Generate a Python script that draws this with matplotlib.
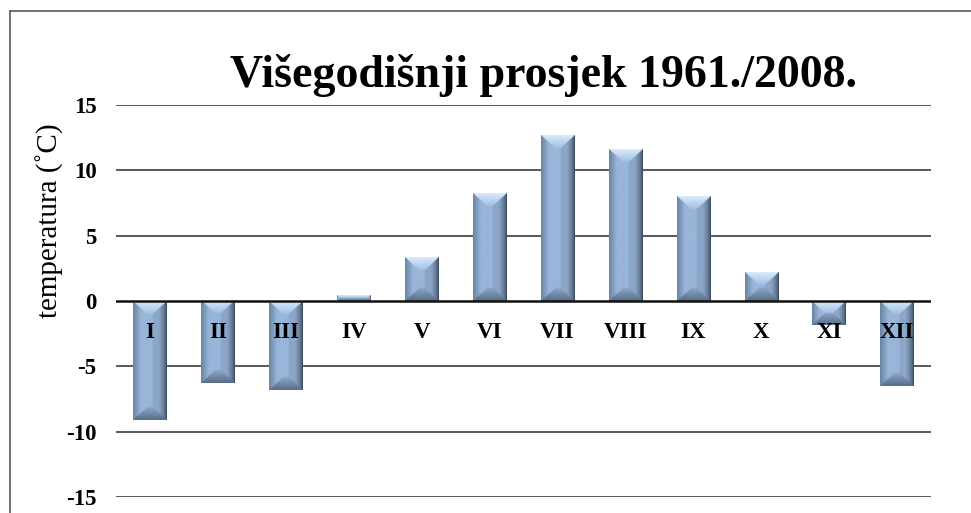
import matplotlib
matplotlib.use("Agg")
import numpy as np
import matplotlib.pyplot as plt
from matplotlib.lines import Line2D

months = ['I', 'II', 'III', 'IV', 'V', 'VI', 'VII', 'VIII', 'IX', 'X', 'XI', 'XII']
temps = [-9.1, -6.3, -6.8, 0.4, 3.3, 8.2, 12.7, 11.6, 8.0, 2.2, -1.8, -6.5]
yticks = [-15, -10, -5, 0, 5, 10, 15]
title = 'Višegodišnji prosjek 1961./2008.'
ylabel = 'temperatura (˚C)'

plt.rcParams['font.family'] = ['Liberation Serif', 'DejaVu Serif']

W, H = 971, 513
fig = plt.figure(figsize=(W / 100, H / 100), dpi=100)
ax_left, ax_right, ax_top, ax_bot = 116, 931, 105, 497
ax = fig.add_axes([ax_left / W, (H - ax_bot) / H, (ax_right - ax_left) / W, (ax_bot - ax_top) / H])
for s in ax.spines.values():
    s.set_visible(False)

for t in yticks:
    if t == 0:
        continue
    ax.axhline(t, color='#3c3c3c', lw=1.2, zorder=1)
ax.axhline(0, color='#111111', lw=1.8, zorder=4)

bars = ax.bar(range(len(months)), temps, width=0.49, color='#95b3d7', edgecolor='none', zorder=2)

# bevel shading computed from each bar's geometry
px_x = 12 / (ax_right - ax_left)
px_y = 30 / (ax_bot - ax_top)
C = lambda *v: np.array(v, dtype=float) / 255
center = C(152, 181, 218)
top_e, top_i = C(218, 235, 252), C(160, 190, 226)
bot_e, bot_i = C(88, 108, 134), C(140, 167, 202)
lef_e, lef_i = C(105, 130, 160), C(152, 181, 218)
rig_e, rig_i = C(38, 50, 68), C(140, 166, 200)
for b in bars:
    x0 = b.get_x()
    x1 = x0 + b.get_width()
    y_lo = min(b.get_y(), b.get_y() + b.get_height())
    y_hi = max(b.get_y(), b.get_y() + b.get_height())
    w_px = (x1 - x0) / px_x
    h_px = (y_hi - y_lo) / px_y
    nx = max(2, int(round(w_px * 3)))
    ny = max(2, int(round(h_px * 3)))
    u = (np.arange(nx) + 0.5) / nx * w_px
    v = (np.arange(ny) + 0.5) / ny * h_px
    U, V = np.meshgrid(u, v)
    bv = min(13.0, h_px / 2)
    bh = min(14.0, w_px / 2) * (bv / 13.0)
    bh = max(bh, 1.0)
    sh = max(1.0, 8.0 * bv / 13.0)  # side shading width
    dn = np.stack([V / bv, (h_px - V) / bv, U / bh, (w_px - U) / bh])
    reg = np.argmin(dn, axis=0)
    tmin = np.min(dn, axis=0)
    img = np.empty((ny, nx, 3))
    img[:] = center
    t_top = np.clip(V / bv, 0, 1)[..., None]
    t_bot = np.clip((h_px - V) / bv, 0, 1)[..., None]
    t_lef = np.clip(U / sh, 0, 1)[..., None]
    t_rig = np.clip((w_px - U) / sh, 0, 1)[..., None]
    cols = [top_e + (top_i - top_e) * t_top,
            bot_e + (bot_i - bot_e) * t_bot,
            lef_e + (lef_i - lef_e) * t_lef,
            rig_e + (rig_i - rig_e) * np.sqrt(t_rig)]
    inside = (tmin < 1)[..., None]
    for k in range(4):
        m = (reg == k)[..., None] & inside
        img = np.where(m, cols[k], img)
    # side shading also continues beyond bevel region for smoothness
    img = np.where(~inside & (U < sh)[..., None], cols[2], img)
    img = np.where(~inside & ((w_px - U) < sh)[..., None], cols[3], img)
    ax.imshow(img, extent=(x0, x1, y_lo, y_hi), origin='upper', aspect='auto',
              interpolation='bilinear', zorder=3)

ax.set_xlim(-0.5, 11.5)
ax.set_ylim(-15, 15)

for i, m in enumerate(months):
    ax.text(i, -2.8, m, ha='center', va='baseline', fontsize=16.5, fontweight='bold', zorder=5)

ax.set_xticks([])
ax.set_yticks(yticks)
ax.set_yticklabels([str(t) for t in yticks], fontsize=16.5, fontweight='bold')
ax.tick_params(axis='y', length=0, pad=14)

fig.text(543 / W, (H - 87) / H, title, ha='center', va='baseline', fontsize=33, fontweight='bold')
fig.text(50 / W, (H - 221) / H, ylabel, ha='center', va='center', rotation=90, fontsize=21)

fig.add_artist(Line2D([10 / W, 10 / W], [0, (H - 11) / H], color='#595959', lw=1.2))
fig.add_artist(Line2D([10 / W, 1], [(H - 11) / H, (H - 11) / H], color='#595959', lw=1.2))

fig.savefig('out.png', dpi=100)
